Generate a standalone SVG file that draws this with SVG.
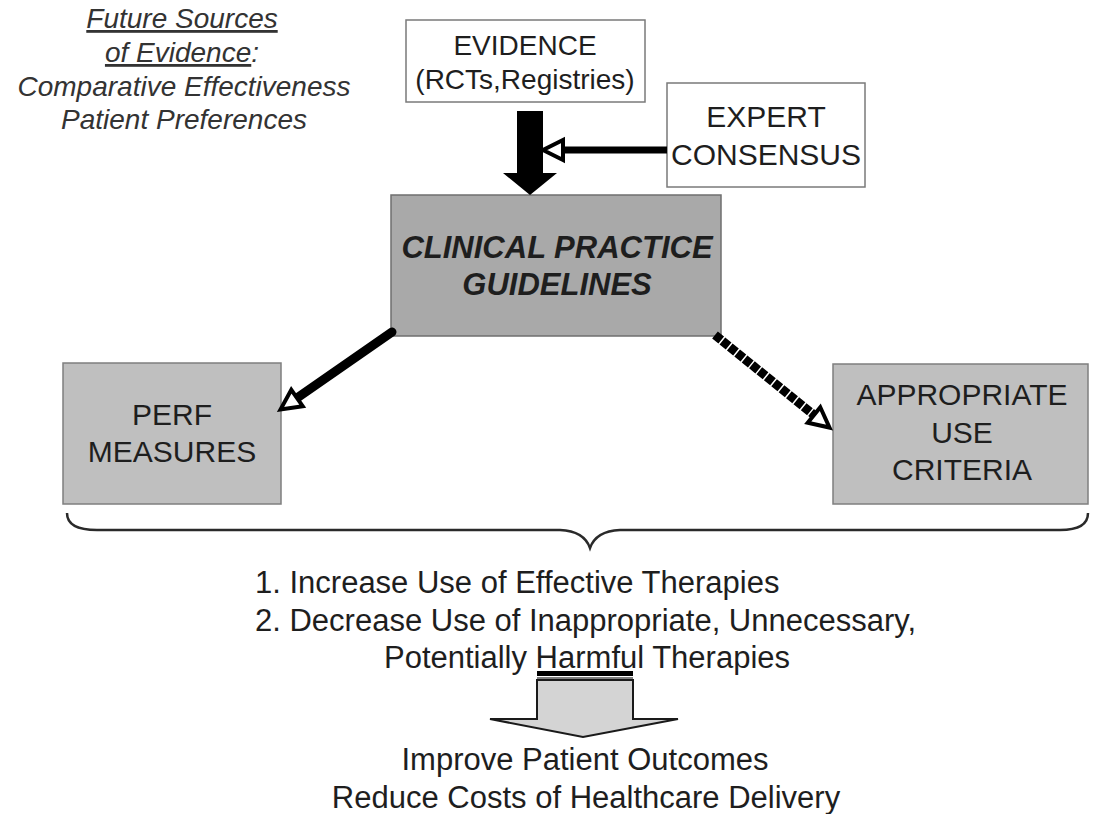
<svg xmlns="http://www.w3.org/2000/svg" width="1093" height="814" viewBox="0 0 1093 814">
<style>
text{font-family:"Liberation Sans",Arial,sans-serif;fill:#1e1e1e;text-anchor:middle}
text.l{text-anchor:start}
.wb{fill:#fff;stroke:#7a7a7a;stroke-width:1.5}
.gb{fill:#bfbfbf;stroke:#7f7f7f;stroke-width:1.5}
.mb{fill:#a9a9a9;stroke:#6f6f6f;stroke-width:1.5}
.t28{font-size:28px}
.t30{font-size:30px}
.t31{font-size:31px}
.it{font-size:28px;font-style:italic;fill:#333}
.conn{stroke:#000;fill:none}
</style>
<defs>
<marker id="open" markerUnits="userSpaceOnUse" viewBox="-4 -14 28 28" markerWidth="28" markerHeight="28" refX="0" refY="0" orient="auto" overflow="visible">
<path d="M0,-10 L20,0 L0,10 Z" fill="#fff" stroke="#000" stroke-width="4" stroke-linejoin="miter"/>
</marker>
</defs>
<rect width="1093" height="814" fill="#fff"/>

<g id="future-sources">
<text class="it" x="182" y="28" text-decoration="underline">Future Sources</text>
<text class="it" x="182" y="62"><tspan text-decoration="underline">of Evidence</tspan>:</text>
<text class="it" x="184" y="96">Comparative Effectiveness</text>
<text class="it" x="184" y="129">Patient Preferences</text>
</g>

<g id="evidence">
<rect class="wb" x="406" y="20" width="239" height="82"/>
<text class="t28" x="525" y="55">EVIDENCE</text>
<text class="t28" x="525" y="89">(RCTs,Registries)</text>
</g>

<g id="expert">
<rect class="wb" x="667" y="83" width="198" height="104"/>
<text class="t30" x="766" y="127">EXPERT</text>
<text class="t30" x="766" y="165">CONSENSUS</text>
</g>

<g id="guidelines">
<rect class="mb" x="391" y="195" width="330" height="141"/>
<text class="t31" x="557" y="258" font-weight="bold" font-style="italic">CLINICAL PRACTICE</text>
<text class="t31" x="557" y="295" font-weight="bold" font-style="italic">GUIDELINES</text>
</g>

<g id="perf">
<rect class="gb" x="63" y="363" width="218" height="141"/>
<text class="t30" x="172" y="425">PERF</text>
<text class="t30" x="172" y="462">MEASURES</text>
</g>

<g id="auc">
<rect class="gb" x="833" y="364" width="255" height="140"/>
<text class="t30" x="962" y="405">APPROPRIATE</text>
<text class="t30" x="962" y="443">USE</text>
<text class="t30" x="962" y="480">CRITERIA</text>
</g>

<g id="connectors">
<polygon points="517,111 543,111 543,173 557,173 530,195 503,173 517,173" fill="#000"/>
<line class="conn" x1="667" y1="150" x2="563" y2="150" stroke-width="7" marker-end="url(#open)"/>
<line class="conn" x1="392" y1="332" x2="297" y2="398" stroke-width="9" stroke-linecap="round" marker-end="url(#open)"/>
<line class="conn" x1="715" y1="335" x2="814" y2="415" stroke-width="9" stroke-linecap="butt" stroke-dasharray="8 1.5" marker-end="url(#open)"/>
</g>

<g id="brace">
<path d="M67,513 Q67,530 97,530 L560,530 Q584,531 590,548 Q596,531 620,530 L1060,530 Q1088,530 1088,513" fill="none" stroke="#2a2a2a" stroke-width="2.5"/>
</g>

<g id="goals">
<text class="t31 l" x="255" y="593">1. Increase Use of Effective Therapies</text>
<text class="t31 l" x="255" y="631">2. Decrease Use of Inappropriate, Unnecessary,</text>
<text class="t31" x="587" y="668">Potentially Harmful Therapies</text>
</g>

<g id="down-arrow">
<rect x="537" y="671" width="96" height="5" fill="#000"/>
<line x1="537" y1="678" x2="633" y2="678" stroke="#000" stroke-width="1.2"/>
<polygon points="537,680 633,680 633,719 678,719 583,737 490,719 537,719" fill="#d4d4d4" stroke="#1a1a1a" stroke-width="2"/>
</g>

<g id="outcomes">
<text class="t31" x="585" y="770">Improve Patient Outcomes</text>
<text class="t31" x="586" y="808">Reduce Costs of Healthcare Delivery</text>
</g>
</svg>
